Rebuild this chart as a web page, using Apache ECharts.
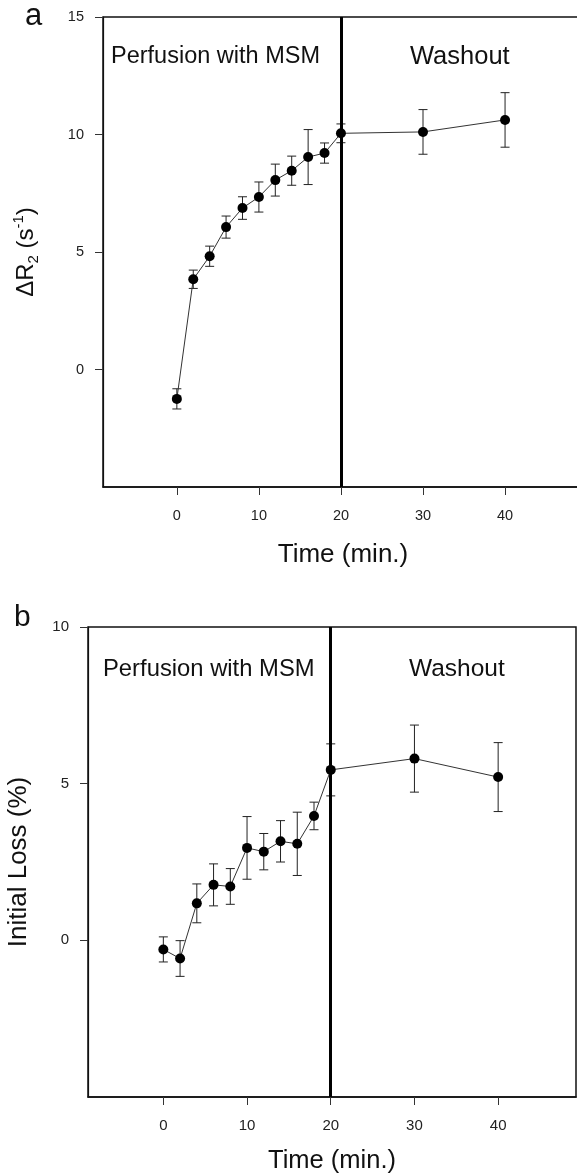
<!DOCTYPE html>
<html>
<head>
<meta charset="utf-8">
<script src="https://cdn.jsdelivr.net/npm/echarts@6/dist/echarts.min.js"></script>
<style>
html,body{margin:0;padding:0;background:#fff;}
#c{width:577px;height:1176px;}
</style>
</head>
<body>
<div id="c"></div>
<script>
// ---- data ----
var times = [0, 2, 4, 6, 8, 10, 12, 14, 16, 18, 20, 30, 40];
var r2Mean = [-1.25, 3.84, 4.82, 6.06, 6.87, 7.34, 8.06, 8.46, 9.04, 9.21, 10.05, 10.11, 10.62];
var r2Err  = [0.43, 0.39, 0.43, 0.47, 0.48, 0.64, 0.68, 0.62, 1.17, 0.43, 0.40, 0.95, 1.16];
var lossMean = [-0.29, -0.58, 1.18, 1.77, 1.72, 2.95, 2.83, 3.16, 3.08, 3.97, 5.44, 5.80, 5.21];
var lossErr  = [0.40, 0.57, 0.62, 0.67, 0.57, 1.00, 0.58, 0.66, 1.01, 0.44, 0.83, 1.07, 1.10];
var xTicks = [0, 10, 20, 30, 40];
var yTicksA = [0, 5, 10, 15];
var yTicksB = [0, 5, 10];
var dividerTime = 20;
var phaseLabels = ['Perfusion with MSM', 'Washout'];
var xName = 'Time (min.)';

var FF = '"Liberation Sans", Arial, Helvetica, sans-serif';
var INK = '#111';

function pts(m){ return times.map(function(t,i){ return [t, m[i]]; }); }
function errs(m, e){ return times.map(function(t,i){ return [t, m[i]-e[i], m[i]+e[i]]; }); }

function errRender(params, api){
  var x = api.value(0), lo = api.value(1), hi = api.value(2);
  var p1 = api.coord([x, hi]), p2 = api.coord([x, lo]);
  var w = 4.5;
  var st = {stroke: '#222', lineWidth: 1};
  return {type: 'group', children: [
    {type: 'line', shape: {x1: p1[0], y1: p1[1], x2: p2[0], y2: p2[1]}, style: st},
    {type: 'line', shape: {x1: p1[0]-w, y1: p1[1], x2: p1[0]+w, y2: p1[1]}, style: st},
    {type: 'line', shape: {x1: p2[0]-w, y1: p2[1], x2: p2[0]+w, y2: p2[1]}, style: st}
  ]};
}

function xAxisCfg(idx, max, gap, nameSize, labelSize){
  return {
    type: 'value', gridIndex: idx, min: -9, max: max,
    name: xName, nameLocation: 'middle', nameGap: gap,
    nameTextStyle: {fontFamily: FF, fontSize: nameSize, color: INK},
    axisLine: {show: true, onZero: false, lineStyle: {color: INK, width: 1.5}},
    axisTick: {show: true, inside: false, length: 8, customValues: xTicks, lineStyle: {color: '#333', width: 1}},
    axisLabel: {show: true, margin: 21, customValues: xTicks, fontFamily: FF, fontSize: labelSize, color: '#222'},
    splitLine: {show: false}
  };
}

function yAxisCfg(idx, min, max, ticks, name, gap, nameSize, rich, labelSize){
  return {
    type: 'value', gridIndex: idx, min: min, max: max, interval: 5,
    name: name, nameLocation: 'middle', nameRotate: 90, nameGap: gap,
    nameTextStyle: {fontFamily: FF, fontSize: nameSize, color: INK, rich: rich},
    axisLine: {show: true, onZero: false, lineStyle: {color: INK, width: 1.2}},
    axisTick: {show: true, inside: false, length: 8, customValues: ticks, lineStyle: {color: '#333', width: 1}},
    axisLabel: {show: true, margin: 19, customValues: ticks, fontFamily: FF, fontSize: labelSize, color: '#222'},
    splitLine: {show: false}
  };
}

var richA = {
  m: {fontFamily: FF, fontSize: 24, color: INK, lineHeight: 30, verticalAlign: 'middle'},
  s: {fontFamily: FF, fontSize: 15, color: INK, lineHeight: 30, verticalAlign: 'bottom', padding: [10, 0, 0, 0]},
  p: {fontFamily: FF, fontSize: 15, color: INK, lineHeight: 30, verticalAlign: 'top', padding: [0, 0, 8, 0]}
};

function lineSeries(xi, yi, m){
  return {
    type: 'line', xAxisIndex: xi, yAxisIndex: yi, data: pts(m),
    symbol: 'circle', symbolSize: 10, z: 5,
    itemStyle: {color: '#000'},
    lineStyle: {color: '#333', width: 1},
    markLine: {
      silent: true, symbol: ['none', 'none'], label: {show: false},
      lineStyle: {color: '#000', width: 3, type: 'solid'},
      data: [{xAxis: dividerTime}]
    }
  };
}
function errSeries(xi, yi, m, e){
  return {type: 'custom', xAxisIndex: xi, yAxisIndex: yi, data: errs(m, e), renderItem: errRender, z: 3};
}

var chart = echarts.init(document.getElementById('c'), null, {renderer: 'canvas'});
chart.setOption({
  animation: false,
  backgroundColor: '#fff',
  grid: [
    {left: 103, top: 17, width: 480, height: 470, outerBoundsMode: 'none', containLabel: false,
     show: true, borderColor: INK, borderWidth: 1.5, backgroundColor: 'transparent'},
    {left: 88, top: 627, width: 488, height: 470, outerBoundsMode: 'none', containLabel: false,
     show: true, borderColor: INK, borderWidth: 1.5, backgroundColor: 'transparent'}
  ],
  xAxis: [xAxisCfg(0, 49.5, 55, 26, 14.5), xAxisCfg(1, 49.3, 51, 25.5, 15)],
  yAxis: [
    yAxisCfg(0, -5, 15, yTicksA, '{m|ΔR}{s|2}{m| (s}{p|-1}{m|)}', 62, 24, richA, 14.5),
    yAxisCfg(1, -5, 10, yTicksB, 'Initial Loss (%)', 56, 26, null, 15)
  ],
  series: [
    errSeries(0, 0, r2Mean, r2Err),
    lineSeries(0, 0, r2Mean),
    errSeries(1, 1, lossMean, lossErr),
    lineSeries(1, 1, lossMean)
  ],
  graphic: [
    {type: 'text', left: 25, top: 1, style: {text: 'a', font: '31px ' + FF, fill: INK}},
    {type: 'text', left: 14, top: 603, style: {text: 'b', font: '30px ' + FF, fill: INK}},
    {type: 'text', left: 111, top: 45, style: {text: phaseLabels[0], font: '23.5px ' + FF, fill: INK}},
    {type: 'text', left: 410, top: 44, style: {text: phaseLabels[1], font: '25.5px ' + FF, fill: INK}},
    {type: 'text', left: 103, top: 657, style: {text: phaseLabels[0], font: '23.8px ' + FF, fill: INK}},
    {type: 'text', left: 409, top: 657, style: {text: phaseLabels[1], font: '24.5px ' + FF, fill: INK}}
  ]
});
</script>
</body>
</html>
